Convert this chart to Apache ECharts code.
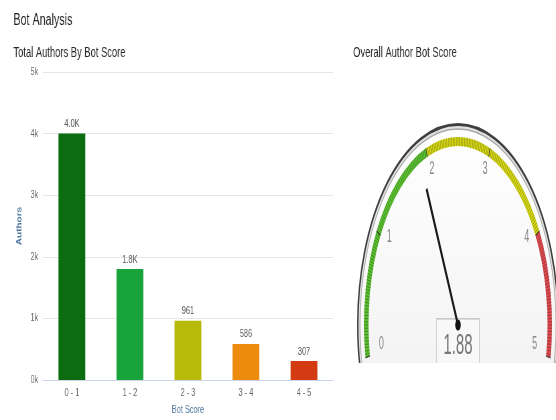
<!DOCTYPE html>
<html>
<head>
<meta charset="utf-8">
<script src="https://cdn.jsdelivr.net/npm/echarts@6/dist/echarts.min.js"></script>
<style>
  html, body { margin: 0; padding: 0; background: #fff; width: 556px; height: 420px; overflow: hidden; }
  /* the dashboard is drawn in condensed proportions */
  #bars { position: absolute; left: 0; top: 0; width: 830px; height: 420px; transform: scaleX(0.67); transform-origin: 0 0; }
  #dial { position: absolute; left: 348px; top: 100px; width: 440px; height: 263px; transform: scaleX(0.5); transform-origin: 0 0; }
</style>
</head>
<body>
<div id="bars"></div>
<div id="dial"></div>
<script>
// Bot score buckets and author counts
const categories = ['0 - 1', '1 - 2', '2 - 3', '3 - 4', '4 - 5'];
const authorCounts = [4000, 1800, 961, 586, 307];
const barColors = ['#0b6d10', '#18a43a', '#b8ba0b', '#ec8b0e', '#d33c12'];
const yTickLabels = ['0k', '1k', '2k', '3k', '4k', '5k'];

// Overall gauge reading and its coloured bands (fraction of range, colour)
const overallScore = 1.88;
const scoreBands = [[0.4, '#58c12c'], [0.8, '#d6d80e'], [1, '#e1484d']];

const FONT = '"Liberation Sans", Arial, sans-serif';

function shortCount(v) {
  return v >= 1000 ? (v / 1000).toFixed(1) + 'K' : String(v);
}

const bars = echarts.init(document.getElementById('bars'));
bars.setOption({
  animation: false,
  textStyle: { fontFamily: FONT },
  title: [
    { text: 'Bot Analysis', left: 15, top: 8,
      textStyle: { fontFamily: FONT, fontSize: 16, fontWeight: 'normal', color: '#222' } },
    { text: 'Total Authors By Bot Score', left: 15, top: 41,
      textStyle: { fontFamily: FONT, fontSize: 14, fontWeight: 'normal', color: '#2a2a2a' } },
    { text: 'Overall Author Bot Score', left: 522, top: 41,
      textStyle: { fontFamily: FONT, fontSize: 14, fontWeight: 'normal', color: '#2a2a2a' } }
  ],
  grid: { left: 64, right: 333, top: 72, bottom: 40, containLabel: false },
  xAxis: {
    type: 'category',
    data: categories,
    axisLine: { lineStyle: { color: '#ccd6eb' } },
    axisTick: { show: false },
    axisLabel: { color: '#666', fontSize: 11, margin: 7, fontFamily: FONT },
    name: 'Bot Score',
    nameLocation: 'middle',
    nameGap: 24,
    nameTextStyle: { color: '#4d759e', fontSize: 11, fontFamily: FONT }
  },
  yAxis: {
    type: 'value',
    min: 0,
    max: 5000,
    interval: 1000,
    axisLine: { show: false },
    axisTick: { show: false },
    axisLabel: {
      color: '#666', fontSize: 11, margin: 7, fontFamily: FONT,
      formatter: v => yTickLabels[Math.round(v / 1000)]
    },
    splitLine: { lineStyle: { color: '#e6e6e6' } },
    name: 'Authors',
    nameLocation: 'middle',
    nameGap: 25,
    nameRotate: 90,
    nameTextStyle: { color: '#4d759e', fontSize: 10, fontWeight: 'bold', fontFamily: FONT }
  },
  series: [{
    type: 'bar',
    data: authorCounts.map((v, i) => ({ value: v, itemStyle: { color: barColors[i] } })),
    barWidth: 40,
    label: {
      show: true, position: 'top', distance: 4,
      color: '#555', fontSize: 11, fontFamily: FONT,
      formatter: p => shortCount(p.value)
    }
  }]
});

// per-label nudges so the dial numbers sit clear of the coloured arc
const dialLabelPads = {
  t0: [0, 0, 24, 15], t1: [0, 0, 0, 10], t2: [0, 0, 0, 16],
  t3: [0, 12, 0, 0], t4: [0, 10, 0, 0], t5: [0, 15, 24, 0]
};
const dialRich = {};
Object.keys(dialLabelPads).forEach(k => {
  dialRich[k] = { color: '#888', fontSize: 18, fontFamily: FONT, padding: dialLabelPads[k] };
});

const dial = echarts.init(document.getElementById('dial'));
const CX = 220, CY = 225;
dial.setOption({
  animation: false,
  graphic: [
    { type: 'circle', z: 0, shape: { cx: CX, cy: CY, r: 200.5 },
      style: { fill: '#e2e2e2', stroke: '#3f3f3f', lineWidth: 3 } },
    { type: 'circle', z: 0, shape: { cx: CX, cy: CY, r: 196 },
      style: {
        fill: { type: 'linear', x: 0, y: 0, x2: 0, y2: 1,
                colorStops: [{ offset: 0, color: '#ffffff' }, { offset: 1, color: '#ececec' }] },
        stroke: '#a9a9a9', lineWidth: 1.5
      } }
  ],
  series: [{
    type: 'gauge',
    center: [CX, CY],
    radius: 188,
    startAngle: 190,
    endAngle: -10,
    min: 0,
    max: 5,
    splitNumber: 5,
    axisLine: { lineStyle: { width: 9, color: scoreBands } },
    axisTick: { show: true, splitNumber: 40, distance: -9, length: 9,
                lineStyle: { color: 'rgba(50,50,50,0.45)', width: 1 } },
    splitLine: { show: true, distance: -9, length: 9,
                 lineStyle: { color: 'rgba(40,40,40,0.7)', width: 1.5 } },
    axisLabel: {
      distance: 12, color: '#888', fontSize: 18, fontFamily: FONT,
      formatter: v => '{t' + Math.round(v) + '|' + v + '}',
      rich: dialRich
    },
    pointer: { show: true, icon: 'rect', length: 150, width: 4, itemStyle: { color: '#1a1a1a' } },
    anchor: { show: true, showAbove: true, size: 11, itemStyle: { color: '#111' } },
    title: { show: false },
    detail: {
      valueAnimation: false,
      offsetCenter: [0, 21],
      formatter: v => v.toFixed(2),
      fontSize: 30, fontFamily: FONT, fontWeight: 'normal', color: '#777',
      width: 66, height: 44, lineHeight: 44,
      borderColor: '#c8c8c8', borderWidth: 1,
      backgroundColor: 'rgba(255,255,255,0.35)'
    },
    data: [{ value: overallScore }]
  }]
});
</script>
</body>
</html>
